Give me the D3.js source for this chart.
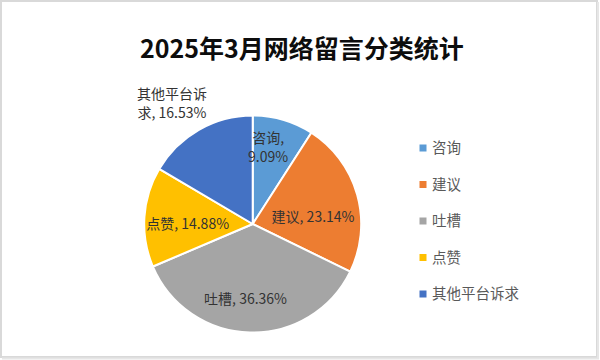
<!DOCTYPE html>
<html><head><meta charset="utf-8">
<script src="https://cdn.jsdelivr.net/npm/d3@7/dist/d3.min.js"></script>
<style>
html,body{margin:0;padding:0;background:#fff;}
svg{display:block;}
</style></head>
<body>
<svg id="c" width="600" height="360"></svg>
<script>
const title = "2025年3月网络留言分类统计";
const categories = ["咨询", "建议", "吐槽", "点赞", "其他平台诉求"];
const values = [9.09, 23.14, 36.36, 14.88, 16.53];
const colors = ["#5B9BD5", "#ED7D31", "#A5A5A5", "#FFC000", "#4472C4"];
// label line breaks (as shown in the chart)
const labelLines = [["咨询,", "9.09%"], ["建议, 23.14%"], ["吐槽, 36.36%"], ["点赞, 14.88%"], ["其他平台诉", "求, 16.53%"]];

const W = 600, H = 360;
const svg = d3.select("#c");
const cjk = "'Noto Sans CJK SC','Microsoft YaHei',sans-serif";

// frame
svg.append("rect").attr("x", 1).attr("y", 1).attr("width", W - 4).attr("height", H - 4)
  .attr("fill", "#fff").attr("stroke", "#d9d9d9").attr("stroke-width", 2);
svg.append("line").attr("x1", 598).attr("x2", 598).attr("y1", 2).attr("y2", 359).attr("stroke", "#e6e6e6").attr("stroke-width", 2);
svg.append("line").attr("x1", 2).attr("x2", 599).attr("y1", 358.5).attr("y2", 358.5).attr("stroke", "#e6e6e6").attr("stroke-width", 2);

svg.append("text").attr("x", 302).attr("y", 58).attr("text-anchor", "middle")
  .attr("font-family", "'Noto Sans CJK SC',sans-serif").attr("font-weight", "bold")
  .attr("font-size", 25).attr("fill", "#0d0d0d").text(title);

const cx = 252.7, cy = 224, R = 108.5;
const g = svg.append("g").attr("transform", `translate(${cx},${cy})`);
const pie = d3.pie().sort(null).value(d => d)(values);
const arc = d3.arc().innerRadius(0).outerRadius(R);
g.selectAll("path").data(pie).join("path")
  .attr("d", arc).attr("fill", (d, i) => colors[i])
  .attr("stroke", "#fff").attr("stroke-width", 2).attr("stroke-linejoin", "round");

// label placement: radius factor and angular tweak (deg) per slice
const labelPos = [[0.72, -5], [0.56, 9], [0.69, 4], [0.6, -4], [1.34, -4]];
pie.forEach((d, i) => {
  const mid = (d.startAngle + d.endAngle) / 2 + labelPos[i][1] * Math.PI / 180;
  const r = R * labelPos[i][0];
  const x = r * Math.sin(mid), y = -r * Math.cos(mid);
  const lines = labelLines[i];
  const lh = 19;
  const t = g.append("text").attr("text-anchor", "middle")
    .attr("font-family", cjk).attr("font-size", 14).attr("fill", "#333333");
  lines.forEach((ln, k) => {
    t.append("tspan").attr("x", x)
      .attr("y", y + (k - (lines.length - 1) / 2) * lh + 5).text(ln);
  });
});

// legend
const ly = d3.scalePoint().domain(categories).range([148, 294]);
const lg = svg.append("g");
categories.forEach((c, i) => {
  lg.append("rect").attr("x", 419.5).attr("y", ly(c) - 3.5).attr("width", 7).attr("height", 7).attr("fill", colors[i]);
  lg.append("text").attr("x", 432).attr("y", ly(c) + 5).attr("font-family", cjk)
    .attr("font-size", 14.5).attr("fill", "#595959").text(c);
});
</script>
</body></html>
